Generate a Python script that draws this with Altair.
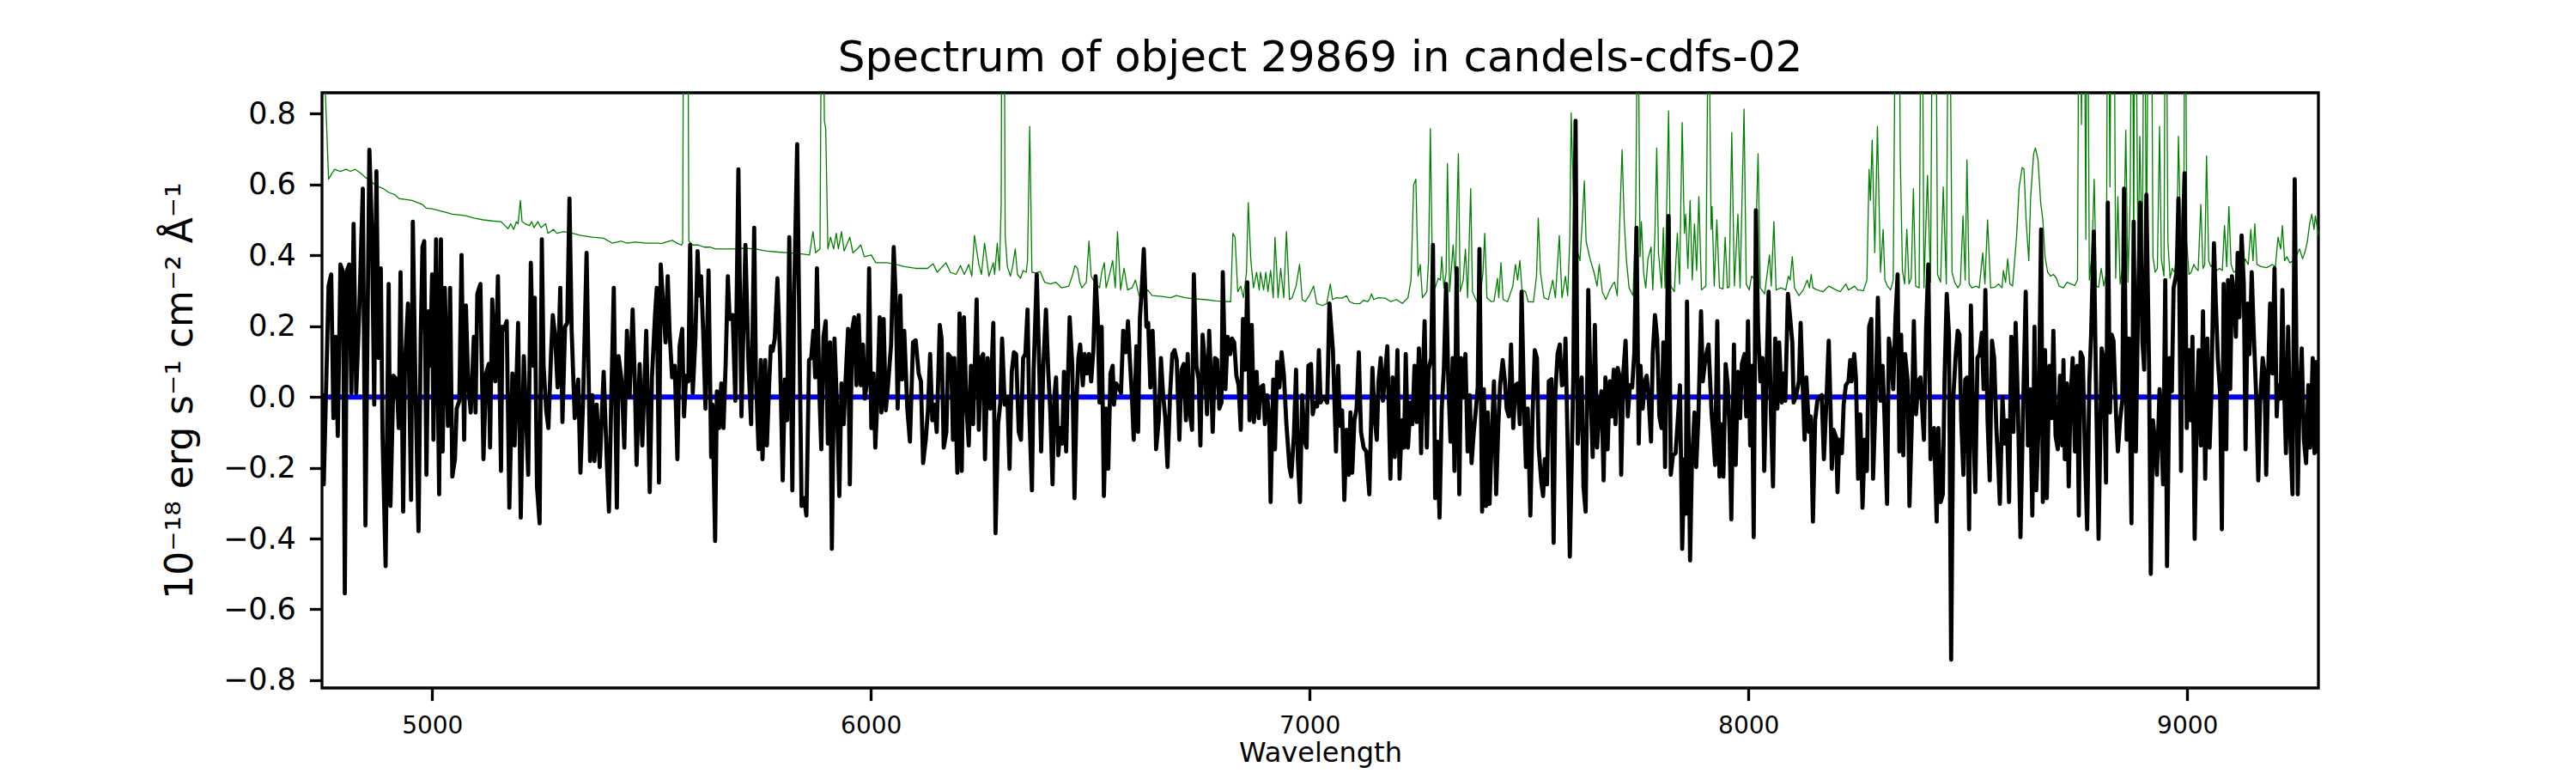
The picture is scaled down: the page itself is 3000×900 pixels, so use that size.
import altair as alt
import pandas as pd

# ---------------- data ----------------
TITLE = "Spectrum of object 29869 in candels-cdfs-02"
X_TITLE = "Wavelength"
Y_TITLE = "10⁻¹⁸ erg s⁻¹ cm⁻² Å⁻¹"
X_TICKS = [5000, 6000, 7000, 8000, 9000]
Y_TICKS = [-0.8, -0.6, -0.4, -0.2, 0.0, 0.2, 0.4, 0.6, 0.8]
X_RANGE = [4749, 9299]
Y_RANGE = [-0.822, 0.859]

# black: observed flux (wavelength, flux)
flux_points = [
(4749,0.01),(4753,-0.247),(4764,0.313),(4770,0.346),(4775,-0.060),(4780,0.170),(4785,-0.110),(4791,0.374),
(4797,0.352),(4801,-0.555),(4806,0.357),(4811,0.374),(4816,0.011),(4821,0.489),(4827,0.011),(4834,0.247),
(4842,0.588),(4848,-0.363),(4857,0.698),(4863,0.462),(4868,-0.022),(4873,0.637),(4878,0.110),(4883,0.363),
(4887,-0.110),(4894,-0.478),(4901,0.319),(4905,-0.308),(4912,0.060),(4919,0.049),(4924,-0.088),(4928,0.352),
(4934,-0.324),(4938,0.088),(4945,0.264),(4952,-0.291),(4956,0.495),(4962,0.033),(4969,-0.379),(4974,0.170),
(4978,0.423),(4982,0.440),(4987,-0.220),(4992,0.242),(4995,0.088),(5000,0.346),(5003,-0.121),(5009,0.445),
(5016,-0.275),(5020,0.445),(5024,-0.154),(5029,0.308),(5036,-0.082),(5041,0.308),(5046,-0.225),(5052,-0.176),
(5056,-0.033),(5062,-0.011),(5067,0.401),(5073,-0.121),(5077,0.258),(5082,0.044),(5088,-0.044),(5095,0.170),
(5099,-0.044),(5103,0.291),(5110,0.319),(5117,-0.176),(5123,0.066),(5129,0.093),(5132,-0.143),(5137,0.275),
(5144,0.044),(5150,0.341),(5157,-0.209),(5160,0.198),(5164,0.190),(5170,0.214),(5176,-0.313),(5183,0.066),
(5188,-0.137),(5196,0.209),(5202,-0.341),(5209,0.115),(5214,-0.049),(5219,-0.220),(5225,0.379),(5230,0.088),
(5234,0.280),(5239,-0.253),(5245,-0.357),(5250,0.445),(5254,0.088),(5260,-0.038),(5265,-0.088),(5271,0.121),
(5275,0.231),(5280,0.176),(5286,0.027),(5292,0.308),(5297,-0.071),(5303,0.198),(5308,0.209),(5313,0.560),
(5318,0.187),(5325,-0.060),(5333,0.049),(5338,-0.214),(5344,-0.016),(5352,0.407),(5360,-0.181),(5365,0.005),
(5370,-0.181),(5375,-0.022),(5382,-0.198),(5387,-0.044),(5391,0.071),(5398,-0.176),(5403,-0.324),(5408,-0.022),
(5414,0.308),(5421,-0.313),(5425,0.115),(5432,0.044),(5438,-0.143),(5444,0.187),(5450,0.000),(5457,0.247),
(5462,0.044),(5466,-0.192),(5473,0.093),(5479,-0.137),(5488,0.187),(5496,-0.269),(5501,0.055),(5508,0.231),
(5512,0.308),(5517,-0.242),(5521,0.374),
(5532,0.154),(5537,0.341),(5541,0.187),(5547,0.055),(5553,0.088),(5559,-0.176),(5564,0.143),(5570,0.192),
(5574,-0.055),(5579,0.060),(5584,0.044),(5588,0.429),(5594,0.011),(5600,0.165),(5605,0.412),(5609,0.286),
(5613,0.341),(5618,0.176),(5623,-0.033),(5630,0.357),(5636,-0.170),(5639,-0.022),(5645,-0.407),(5649,0.016),
(5654,-0.088),(5659,0.038),(5664,-0.088),(5669,0.093),(5674,0.341),(5678,0.220),(5685,0.231),(5691,-0.011),
(5698,0.643),(5705,-0.055),(5710,0.220),(5714,0.429),(5721,0.093),(5727,-0.077),(5734,0.478),(5738,0.055),
(5744,-0.148),(5749,0.104),(5753,-0.176),(5759,0.104),(5763,-0.137),(5768,0.033),(5772,0.143),(5776,0.130),
(5781,0.165),(5787,0.335),(5793,0.110),(5799,-0.236),(5804,0.049),(5809,-0.066),(5814,0.451),(5821,-0.264),
(5825,0.286),(5832,0.714),(5836,0.286),(5842,-0.308),(5848,-0.286),(5853,-0.335),(5859,0.104),(5864,0.110),
(5869,0.187),(5873,0.055),(5877,0.363),(5883,-0.005),(5887,-0.148),(5892,0.170),(5897,0.214),(5902,-0.132),
(5907,0.154),(5911,-0.429),(5917,0.165),(5923,-0.038),(5928,-0.280),(5933,0.038),(5938,-0.077),(5943,0.066),
(5948,0.192),(5952,-0.247),(5957,0.187),(5962,0.225),(5967,0.033),(5972,0.231),(5977,0.033),(5982,0.148),
(5986,-0.005),(5992,0.049),(5996,0.363),(6001,-0.088),(6006,0.066),(6010,-0.143),(6014,-0.033),(6020,0.225),
(6024,-0.044),(6029,0.220),(6034,-0.038),(6039,0.033),(6046,0.148),(6052,0.423),(6057,0.264),(6061,-0.033),
(6067,0.286),(6071,0.049),(6076,0.187),(6083,-0.033),(6089,-0.126),(6096,0.154),(6102,0.160),(6109,0.066),
(6114,0.044),(6119,-0.187),(6125,-0.121),(6130,-0.038),(6135,0.121),(6140,-0.066),(6145,-0.022),(6150,-0.099),
(6157,0.203),(6161,0.165),(6166,-0.143),(6172,-0.099),(6176,0.121),(6183,0.110),(6187,-0.121),(6190,0.110),
(6197,-0.214),(6202,0.236),(6207,-0.209),(6212,0.225),(6218,-0.033),(6223,-0.137),(6228,0.088),(6233,-0.077),
(6241,0.275),(6246,-0.093),(6251,0.110),(6256,0.121),(6260,-0.176),(6266,0.110),(6272,-0.033),(6279,0.209),
(6284,-0.385),
(6290,-0.077),(6295,-0.016),(6299,0.165),(6305,-0.022),(6311,0.000),(6316,-0.203),(6321,0.071),(6326,0.126),
(6331,0.121),(6337,-0.099),(6342,-0.121),(6347,0.110),(6352,0.121),(6357,0.247),(6361,-0.044),(6367,-0.264),
(6371,0.077),(6378,0.346),(6383,0.121),(6388,-0.154),(6393,0.088),(6399,0.247),(6404,0.077),(6409,-0.044),
(6414,-0.247),(6418,0.000),(6422,0.055),(6427,-0.165),(6432,-0.088),(6436,-0.132),(6440,0.071),(6445,-0.154),
(6449,0.044),(6453,0.225),(6459,0.088),(6464,-0.286),(6469,0.000),(6473,0.110),(6477,0.148),(6483,0.033),
(6487,0.121),(6492,0.066),(6497,0.121),(6502,0.044),(6507,0.132),(6512,0.341),(6517,0.220),(6521,-0.016),
(6526,0.198),(6531,-0.280),(6536,-0.033),(6541,-0.203),(6546,0.066),(6551,0.088),(6554,-0.022),(6559,0.038),
(6566,0.022),(6570,0.011),(6575,0.187),(6581,0.126),(6586,0.214),(6590,0.110),(6595,0.000),(6599,-0.121),
(6605,0.143),(6609,-0.099),(6613,0.220),(6618,0.319),(6622,0.418),(6628,0.198),(6632,0.209),(6637,0.027),
(6642,0.187),(6647,0.022),(6650,-0.148),(6656,-0.066),(6661,0.110),(6666,0.005),(6671,-0.060),(6676,-0.198),
(6682,0.011),(6687,0.121),(6692,0.132),(6697,0.104),(6703,-0.121),(6708,0.077),(6713,0.093),(6718,-0.066),
(6722,0.121),(6727,-0.044),(6732,-0.093),(6736,0.346),(6742,0.088),(6747,0.049),(6751,-0.137),(6756,0.176),
(6761,0.099),(6766,-0.049),(6771,0.187),(6776,0.016),(6779,-0.099),(6784,0.110),(6789,0.105),(6794,-0.033),
(6799,-0.016),(6802,0.352),(6808,0.022),(6813,0.170),(6819,0.121),(6823,0.165),(6828,0.154),(6833,0.060),
(6838,0.033),(6843,-0.093),(6848,0.220),(6853,0.077),(6858,0.324),(6863,-0.066),(6868,0.203),(6873,-0.071),
(6879,0.071),(6884,-0.060),(6888,0.027),(6894,0.033),(6898,-0.077),(6903,0.005),(6908,-0.066),(6911,-0.297),
(6917,0.049),(6921,-0.148),(6926,0.099),(6931,0.027),(6936,0.126),(6941,0.066),(6947,-0.077),(6954,-0.198),
(6958,-0.225),(6964,-0.110),(6969,0.077),(6973,-0.176),(6978,-0.297),(6983,0.005),(6988,-0.121),(6993,-0.143),
(6997,0.088),(7003,0.093),(7007,-0.049),(7012,-0.016),(7017,-0.027),(7021,0.132),(7025,-0.016),(7030,0.000),
(7035,-0.005),(7040,-0.016),(7045,0.264),
(7053,0.132),(7060,-0.154),(7065,0.088),(7069,-0.082),(7074,-0.038),(7079,-0.291),(7084,-0.093),(7089,-0.220),
(7093,-0.044),(7097,-0.214),(7102,-0.066),(7107,-0.033),(7112,0.126),(7117,-0.099),(7123,-0.143),(7129,-0.154),
(7136,-0.275),(7143,0.082),(7148,-0.060),(7153,-0.121),(7157,0.044),(7162,0.110),(7167,-0.011),(7172,0.066),
(7177,0.143),(7184,-0.231),(7189,0.055),(7194,-0.170),(7200,0.132),(7205,-0.231),(7210,-0.066),(7215,-0.143),
(7219,0.121),(7224,-0.143),(7230,-0.016),(7234,-0.077),(7239,0.088),(7244,-0.071),(7249,0.137),(7254,-0.159),
(7258,0.066),(7262,0.214),(7267,-0.143),(7271,0.077),(7277,0.110),(7281,0.429),(7286,-0.286),(7291,-0.126),
(7296,-0.341),(7301,-0.033),(7306,0.082),(7311,0.319),(7316,0.044),(7321,-0.126),(7326,0.110),(7330,-0.209),
(7335,0.363),(7341,-0.275),(7345,0.110),(7350,0.000),(7355,0.121),(7360,-0.154),(7365,0.005),(7369,-0.187),
(7374,-0.099),(7379,-0.033),(7383,0.027),(7387,0.418),(7393,-0.324),(7397,0.022),(7402,-0.308),(7406,-0.044),
(7410,-0.302),(7415,-0.115),(7420,0.044),(7425,-0.275),(7430,-0.077),(7434,0.033),(7440,0.104),(7445,0.044),
(7449,-0.033),(7454,-0.055),(7459,0.148),(7464,-0.088),(7469,0.033),(7474,0.038),(7479,-0.077),(7483,0.297),
(7489,-0.044),(7493,-0.198),(7497,-0.033),(7503,-0.335),(7508,-0.055),(7513,0.132),(7518,0.110),(7522,-0.143),
(7528,-0.242),(7532,-0.280),(7536,-0.176),(7541,-0.247),(7545,0.044),(7551,0.050),(7556,-0.412),(7560,0.011),
(7565,0.121),(7570,0.148),(7575,0.033),(7580,0.038),(7583,0.165),(7588,-0.137),(7593,-0.451),(7598,-0.132),
(7601,0.066),(7606,0.780),(7611,-0.132),(7616,0.000),(7620,0.055),(7624,-0.253),(7629,-0.324),(7635,0.302),
(7641,-0.022),(7645,-0.170),(7650,0.203),(7655,-0.143),(7660,-0.038),(7665,0.016),(7670,-0.236),(7674,0.055),
(7679,-0.148),(7684,0.044),(7688,-0.055),(7693,0.077),(7697,-0.077),(7702,0.082),(7707,0.055),(7710,-0.220),
(7715,0.071),(7720,0.159),(7725,-0.055),(7730,0.033),(7735,0.027),(7740,0.126),(7745,0.478),(7750,-0.132),
(7754,0.088),(7759,-0.033),(7764,0.044),(7768,0.060),(7772,0.011),(7778,-0.126),(7782,0.121),(7787,0.231),
(7792,0.165),(7797,-0.055),(7802,-0.088),(7806,0.154),(7810,-0.198),
(7818,0.511),(7823,-0.220),(7828,-0.165),(7834,-0.159),(7839,-0.066),(7844,0.033),(7849,-0.429),(7854,-0.176),
(7857,-0.330),(7860,0.269),(7867,-0.462),(7871,-0.198),(7877,-0.044),(7881,-0.198),(7886,-0.055),(7892,0.242),
(7896,0.044),(7900,0.088),(7904,0.121),(7909,0.148),(7916,-0.044),(7920,-0.110),(7924,-0.192),(7929,0.214),
(7934,-0.225),(7939,-0.077),(7943,-0.225),(7948,0.093),(7953,0.033),(7957,-0.099),(7961,-0.346),(7967,0.148),
(7971,-0.192),(7976,0.071),(7981,-0.060),(7985,0.093),(7991,0.121),(7995,-0.055),(7999,0.214),(8004,-0.137),
(8008,0.088),(8012,-0.396),(8017,0.527),(8022,0.198),(8027,0.044),(8032,0.110),(8036,-0.209),(8042,0.110),
(8046,0.297),(8051,-0.033),(8056,-0.253),(8061,0.165),(8066,-0.033),(8070,0.154),(8076,-0.016),(8079,0.066),
(8084,-0.011),(8090,0.291),(8095,0.225),(8100,0.154),(8103,-0.016),(8108,0.000),(8115,0.044),(8119,0.209),
(8123,0.055),(8128,-0.121),(8132,0.055),(8138,-0.099),(8142,-0.055),(8147,-0.352),(8152,-0.066),(8157,-0.011),
(8162,0.000),(8167,0.005),(8172,-0.176),(8178,-0.005),(8183,0.159),(8187,-0.022),(8190,-0.203),(8194,-0.093),
(8200,-0.115),(8203,-0.269),(8207,-0.121),(8213,-0.159),(8217,-0.022),(8222,0.033),(8228,0.044),(8232,0.104),
(8235,0.044),(8241,0.121),(8245,0.055),(8250,-0.231),(8255,-0.049),(8260,-0.313),(8265,-0.121),(8270,-0.209),
(8275,0.198),(8280,0.220),(8284,-0.231),(8290,0.000),(8295,0.280),(8301,-0.011),(8306,0.088),(8310,-0.055),
(8316,-0.302),(8320,0.165),(8325,0.121),(8330,0.022),(8335,0.220),(8340,0.346),(8344,-0.154),(8348,0.176),
(8353,-0.165),(8357,0.121),(8363,0.044),(8367,-0.308),(8372,-0.088),(8377,0.214),(8382,-0.049),(8387,0.044),
(8392,0.055),(8397,-0.055),(8400,-0.121),(8405,0.198),(8410,0.374),(8415,-0.176),(8418,-0.099),(8423,-0.088),
(8429,-0.352),(8433,-0.088),(8438,-0.297),(8443,-0.275),(8447,0.055),(8452,0.291),(8457,0.176),(8462,-0.742),
(8467,0.000),(8472,0.110),(8477,0.187),(8481,0.176),(8485,-0.066),(8490,-0.220),(8494,0.049),(8498,0.055),
(8503,-0.374),(8507,0.258),(8513,-0.099),(8517,-0.269),(8522,0.110),(8527,0.121),(8532,0.181),(8536,0.022),
(8540,0.302),(8545,-0.066),(8550,-0.236),(8555,0.159),(8560,0.110),(8565,-0.088),(8570,-0.209),(8573,-0.302),
(8579,0.000),(8584,-0.132),(8589,-0.066),(8594,-0.297),(8599,0.170),(8604,-0.099),(8609,0.209),(8614,-0.011),
(8620,-0.396),(8626,-0.033),(8632,0.297),(8637,-0.137),(8642,0.022),(8647,-0.335),(8652,0.198),(8656,-0.264),
(8661,-0.093),(8667,0.473),(8671,-0.297),(8676,0.132),(8680,-0.286),(8686,0.088),(8691,-0.060),(8695,0.187),
(8700,-0.110),(8705,-0.148),(8710,0.060),(8715,-0.137),(8718,0.104),(8721,-0.176),(8726,0.038),(8730,-0.253),
(8734,-0.011),(8739,0.110),(8744,-0.154),(8749,0.088),(8753,-0.335),(8757,0.126),(8762,0.110),(8767,-0.165),
(8772,-0.374),(8777,0.044),(8781,0.176),(8787,0.467),(8792,0.044),(8798,-0.401),(8805,0.137),(8809,0.110),
(8815,-0.242),(8819,0.549),(8824,-0.044),(8828,0.176),(8832,0.159),(8838,-0.055),(8842,-0.154),(8847,-0.066),
(8852,-0.011),(8856,0.588),(8862,-0.121),(8867,0.165),(8873,-0.357),(8878,0.495),(8883,-0.154),(8888,0.264),
(8893,0.549),(8898,0.154),(8902,0.077),(8907,0.571),(8913,0.088),(8917,-0.500),(8922,-0.066),(8927,-0.132),
(8931,-0.220),(8937,0.022),(8940,-0.066),(8945,-0.247),(8950,0.330),(8954,-0.478),(8960,0.110),(8965,0.016),
(8969,0.308),(8976,0.352),(8980,0.560),(8986,-0.209),(8991,0.500),(8994,0.632),(8999,-0.088),(9004,0.132),
(9008,-0.066),(9012,0.170),(9017,-0.401),(9022,-0.022),(9026,0.132),(9031,-0.137),(9036,0.242),(9041,-0.231),
(9046,0.165),(9051,-0.143),(9055,0.000),(9061,0.434),(9065,0.275),(9070,0.104),(9075,0.011),(9079,-0.374),
(9083,0.319),(9089,-0.148),(9093,0.330),(9098,0.022),(9102,0.341),(9106,0.297),(9111,0.170),(9115,0.407),
(9119,0.225),(9124,0.456),(9129,0.319),(9133,-0.148),(9138,0.264),(9142,0.121),(9147,0.352),(9152,0.170),
(9157,0.011),(9162,-0.236),(9166,-0.022),(9172,0.110),(9176,0.071),(9180,-0.220),(9185,0.088),(9189,0.264),
(9194,0.066),(9199,0.363),(9204,-0.055),(9207,0.033),(9213,-0.005),(9217,0.302),(9220,0.066),(9225,-0.159),
(9230,0.198),(9235,-0.115),(9240,-0.275),(9245,0.615),(9252,-0.275),(9256,-0.011),(9261,0.137),(9266,-0.121),
(9271,-0.187),(9276,0.033),(9280,-0.143),(9286,0.110),(9290,-0.159),(9294,0.099),(9299,-0.159),
]

# green: flux uncertainty (wavelength, sigma); values above the frame are clipped
error_points = [
(4749,1.2),(4757,0.85),(4764,0.615),(4772,0.632),(4778,0.643),(4791,0.637),(4804,0.643),(4814,0.637),
(4824,0.643),(4837,0.632),(4847,0.621),(4860,0.610),(4870,0.599),(4879,0.593),(4889,0.588),(4902,0.577),
(4915,0.571),(4925,0.560),(4938,0.558),(4954,0.555),(4967,0.549),(4977,0.544),(4987,0.533),(5000,0.531),
(5013,0.527),(5029,0.522),(5046,0.516),(5062,0.514),(5078,0.511),(5095,0.505),(5117,0.500),(5137,0.497),
(5157,0.495),(5166,0.484),(5173,0.475),(5179,0.489),(5186,0.473),(5192,0.495),(5196,0.489),(5201,0.555),
(5205,0.495),(5212,0.489),(5222,0.484),(5227,0.495),(5232,0.478),(5241,0.495),(5248,0.478),(5259,0.489),
(5264,0.462),(5277,0.473),(5284,0.462),(5300,0.467),(5320,0.462),(5339,0.456),(5365,0.451),(5391,0.448),
(5411,0.434),(5431,0.440),(5444,0.434),(5463,0.437),(5489,0.434),(5515,0.434),(5522,0.433),(5541,0.440),
(5548,0.442),(5558,0.434),(5568,0.429),(5571,0.434),(5574,1.5),(5582,1.5),(5585,0.440),(5594,0.429),
(5607,0.429),(5620,0.423),(5633,0.423),(5646,0.418),(5665,0.418),(5685,0.418),(5711,0.420),(5737,0.418),
(5763,0.412),(5789,0.409),(5815,0.407),(5842,0.404),(5860,0.401),(5868,0.467),(5874,0.407),(5884,0.418),
(5889,1.5),(5894,0.780),(5897,0.758),(5902,0.418),(5908,0.451),(5915,0.418),(5921,0.462),(5926,0.418),
(5933,0.467),(5939,0.412),(5952,0.451),(5959,0.407),(5969,0.418),(5977,0.429),(5985,0.396),(6001,0.401),
(6011,0.379),(6037,0.379),(6057,0.374),(6076,0.368),(6102,0.363),(6129,0.363),(6142,0.376),(6151,0.352),
(6171,0.379),(6181,0.352),(6194,0.346),(6204,0.371),(6213,0.346),(6223,0.374),(6230,0.341),(6236,0.456),
(6246,0.374),(6252,0.346),(6259,0.434),(6269,0.341),(6279,0.379),(6282,0.346),(6288,0.434),(6293,0.357),
(6297,0.549),(6299,1.5),(6303,1.5),(6306,0.456),(6311,0.368),(6318,0.341),(6323,0.368),(6329,0.418),
(6334,0.346),(6341,0.335),(6347,0.357),(6354,0.352),(6357,0.385),(6362,0.764),(6367,0.352),(6376,0.350),
(6386,0.354),(6396,0.324),(6409,0.319),(6421,0.324),(6435,0.308),(6451,0.313),(6460,0.346),(6465,0.371),
(6471,0.363),(6476,0.324),(6481,0.308),(6491,0.324),(6497,0.440),(6502,0.341),(6510,0.324),(6521,0.308),
(6526,0.352),(6532,0.379),(6536,0.308),(6543,0.341),(6551,0.385),(6557,0.308),(6562,0.467),(6569,0.302),
(6577,0.363),(6585,0.302),(6595,0.308),(6603,0.330),(6611,0.286),(6621,0.280),(6631,0.302),(6641,0.286),
(6663,0.284),(6683,0.280),(6696,0.286),(6716,0.280),(6735,0.277),(6761,0.275),(6787,0.271),(6820,0.269),
(6825,0.462),(6830,0.451),(6836,0.297),(6843,0.313),(6849,0.280),(6856,0.352),(6860,0.549),(6866,0.385),
(6872,0.308),(6879,0.352),(6885,0.302),(6888,0.352),(6895,0.302),(6900,0.352),(6905,0.297),(6911,0.357),
(6917,0.280),(6921,0.451),(6928,0.280),(6934,0.363),(6941,0.280),(6947,0.467),(6954,0.275),(6960,0.280),
(6969,0.313),(6977,0.374),(6983,0.275),(6990,0.269),(6999,0.286),(7009,0.313),(7016,0.264),(7029,0.258),
(7039,0.264),(7047,0.319),(7052,0.275),(7061,0.280),(7074,0.279),(7084,0.286),(7091,0.269),(7101,0.264),
(7114,0.263),(7123,0.273),(7132,0.269),(7136,0.275),(7141,0.291),(7146,0.275),(7156,0.280),(7172,0.279),
(7185,0.269),(7198,0.275),(7211,0.264),(7224,0.280),(7231,0.330),(7237,0.599),(7242,0.615),(7247,0.341),
(7252,0.374),(7257,0.280),(7267,0.297),(7271,0.385),(7275,0.758),(7280,0.335),(7286,0.308),(7293,0.335),
(7298,0.330),(7301,0.396),(7306,0.308),(7311,0.352),(7314,0.659),(7319,0.297),(7327,0.429),(7332,0.330),
(7339,0.687),(7343,0.297),(7350,0.330),(7355,0.418),(7360,0.280),(7367,0.588),(7371,0.297),(7381,0.269),
(7389,0.286),(7395,0.352),(7399,0.462),(7404,0.280),(7414,0.269),(7420,0.270),(7428,0.335),(7431,0.280),
(7436,0.379),(7441,0.275),(7451,0.269),(7463,0.313),(7469,0.374),(7474,0.330),(7479,0.385),(7484,0.302),
(7492,0.297),(7498,0.269),(7510,0.268),(7517,0.341),(7521,0.505),(7526,0.352),(7534,0.280),(7544,0.275),
(7554,0.330),(7560,0.280),(7569,0.456),(7575,0.280),(7583,0.341),(7588,0.286),(7593,0.451),(7596,0.802),
(7601,0.571),(7609,0.418),(7616,0.385),(7621,0.489),(7626,0.610),(7630,0.440),(7639,0.390),(7648,0.352),
(7655,0.313),(7660,0.374),(7667,0.297),(7675,0.275),(7684,0.302),(7691,0.319),(7695,0.324),(7701,0.286),
(7707,0.505),(7712,0.698),(7717,0.495),(7722,0.385),(7728,0.308),(7737,0.286),(7743,0.516),(7748,1.2),
(7753,0.396),(7756,0.495),(7761,0.352),(7766,0.308),(7771,0.390),(7778,0.423),(7782,0.302),(7787,0.467),
(7791,0.703),(7795,0.407),(7802,0.308),(7806,0.478),(7810,0.308),(7818,0.808),(7823,0.313),(7831,0.297),
(7838,0.462),(7843,0.319),(7849,0.775),(7854,0.462),(7857,0.516),(7862,0.363),(7867,0.555),(7872,0.330),
(7877,0.489),(7882,0.357),(7887,0.566),(7893,0.302),(7903,0.313),(7909,1.2),(7915,0.473),(7917,0.538),
(7922,0.313),(7928,0.500),(7934,0.308),(7942,0.305),(7947,0.451),(7952,0.308),(7956,0.310),(7962,0.747),
(7968,0.313),(7976,0.516),(7981,0.308),(7990,0.813),(7995,0.319),(8002,0.302),(8007,0.341),(8012,0.335),
(8017,0.462),(8022,0.687),(8027,0.308),(8037,0.291),(8048,0.401),(8052,0.313),(8058,0.495),(8063,0.302),
(8074,0.308),(8085,0.302),(8091,0.341),(8095,0.330),(8100,0.396),(8105,0.308),(8115,0.286),(8125,0.302),
(8134,0.330),(8139,0.308),(8143,0.346),(8147,0.308),(8157,0.302),(8170,0.297),(8183,0.313),(8191,0.308),
(8200,0.302),(8209,0.297),(8222,0.319),(8228,0.302),(8236,0.308),(8242,0.313),(8249,0.302),(8262,0.300),
(8270,0.330),(8275,0.643),(8278,0.555),(8282,0.725),(8288,0.407),(8294,0.764),(8301,0.352),(8307,0.473),
(8311,0.330),(8317,0.313),(8324,0.302),(8330,0.330),(8337,1.5),(8342,1.5),(8346,0.681),(8351,0.357),
(8356,0.319),(8361,0.473),(8366,0.319),(8371,0.335),(8376,0.588),(8381,0.313),(8389,0.308),(8395,1.5),
(8400,0.308),(8408,0.626),(8415,0.324),(8421,1.5),(8426,1.5),(8431,0.346),(8438,0.324),(8444,0.593),
(8451,0.319),(8457,1.5),(8464,0.352),(8470,0.324),(8477,0.308),(8483,0.319),(8489,0.511),(8494,0.330),
(8498,0.670),(8503,0.319),(8509,0.308),(8519,0.313),(8526,0.308),(8534,0.407),(8539,0.319),(8545,0.500),
(8552,0.308),(8562,0.310),(8570,0.319),(8578,0.308),(8581,0.357),(8586,0.324),(8591,0.390),(8596,0.319),
(8602,0.313),(8611,0.451),(8617,0.593),(8624,0.648),(8628,0.643),(8633,0.495),(8639,0.385),(8643,0.560),
(8650,0.687),(8654,0.703),(8660,0.670),(8666,0.549),(8671,0.500),(8676,0.396),(8682,0.352),(8689,0.341),
(8695,0.346),(8702,0.335),(8708,0.313),(8718,0.308),(8726,0.324),(8735,0.319),(8744,0.315),(8750,0.330),
(8754,1.5),(8759,0.769),(8764,1.5),(8769,0.445),(8772,1.5),(8777,0.330),(8783,0.407),(8788,0.615),
(8793,0.313),(8798,0.310),(8804,0.363),(8810,0.313),(8816,0.352),(8819,1.5),(8824,0.593),(8828,1.5),
(8832,1.5),(8837,0.335),(8842,0.566),(8847,0.319),(8855,0.385),(8860,0.753),(8865,0.324),(8870,0.566),
(8875,1.5),(8878,0.341),(8881,1.5),(8888,0.357),(8892,0.736),(8898,0.363),(8902,1.5),(8907,0.379),
(8913,1.5),(8917,1.5),(8922,0.396),(8927,0.352),(8932,0.363),(8937,0.764),(8941,0.390),(8947,0.341),
(8951,1.5),(8956,0.440),(8961,0.335),(8966,0.363),(8971,0.352),(8976,0.396),(8980,0.736),(8986,0.418),
(8992,0.363),(8995,1.5),(8999,0.440),(9004,0.346),(9009,0.352),(9015,0.374),(9020,0.363),(9025,0.357),
(9031,0.544),(9036,0.363),(9040,0.374),(9044,0.681),(9049,0.385),(9054,0.368),(9061,0.379),(9067,0.357),
(9074,0.363),(9080,0.357),(9085,0.484),(9090,0.368),(9095,0.538),(9100,0.374),(9106,0.352),(9116,0.360),
(9126,0.363),(9132,0.390),(9139,0.374),(9145,0.473),(9150,0.385),(9154,0.489),(9159,0.374),(9168,0.368),
(9181,0.365),(9194,0.374),(9201,0.368),(9207,0.451),(9213,0.418),(9217,0.484),(9222,0.385),(9227,0.396),
(9234,0.379),(9243,0.385),(9252,0.407),(9256,0.418),(9263,0.390),(9269,0.412),(9274,0.440),(9279,0.489),
(9284,0.516),(9289,0.473),(9292,0.511),(9299,0.456),
]

# blue: model (zero everywhere)
model_points = [(4749, 0.0), (9299, 0.0)]

# ---------------- chart ----------------
FONT = "DejaVu Sans"

df_flux = pd.DataFrame(flux_points, columns=["wavelength", "flux"])
df_err = pd.DataFrame(error_points, columns=["wavelength", "flux"])
df_model = pd.DataFrame(model_points, columns=["wavelength", "flux"])

xscale = alt.Scale(domain=X_RANGE, nice=False, zero=False)
yscale = alt.Scale(domain=Y_RANGE, nice=False, zero=False)

xaxis = alt.Axis(
    title=X_TITLE, values=X_TICKS, format="d", grid=False, domain=False,
    labelFont=FONT, labelFontSize=28, labelColor="black", labelPadding=16,
    labelFlush=False, tickSize=14.6, tickWidth=3.3, tickColor="black",
    titleFont=FONT, titleFontSize=32, titleFontWeight="normal", titleColor="black",
    titleBaseline="alphabetic", titleY=85,
)
yaxis = alt.Axis(
    title=Y_TITLE, values=Y_TICKS, format=".1f", grid=False, domain=False,
    labelFont=FONT, labelFontSize=35, labelColor="black", labelPadding=16,
    labelFlush=False, tickSize=14.6, tickWidth=3.3, tickColor="black",
    titleFont=FONT, titleFontSize=44, titleFontWeight="normal", titleColor="black",
    titleAngle=270, titleBaseline="alphabetic", titleAlign="center",
    titleX=-152, titleY=346.5,
)

def enc(chart):
    return chart.encode(
        x=alt.X("wavelength:Q", scale=xscale, axis=xaxis),
        y=alt.Y("flux:Q", scale=yscale, axis=yaxis),
        order="wavelength:Q",
    )

err_line = enc(alt.Chart(df_err).mark_line(color="#008000", strokeWidth=1.3, clip=True, strokeJoin="round"))
model_line = enc(alt.Chart(df_model).mark_line(color="#0000ff", strokeWidth=6, clip=True))
flux_line = enc(alt.Chart(df_flux).mark_line(color="#000000", strokeWidth=4.8, clip=True, strokeJoin="round"))

chart = (
    alt.layer(err_line, model_line, flux_line)
    .properties(
        width=2325,
        height=693,
        padding={"left": 367, "top": 100, "right": 292, "bottom": 98},
        autosize=alt.AutoSizeParams(type="none"),
        background="white",
        title=alt.TitleParams(
            text=TITLE, font=FONT, fontSize=50, fontWeight="normal", color="black",
            anchor="middle", baseline="alphabetic", offset=23, dy=48, frame="group",
        ),
    )
    .configure_view(stroke="black", strokeWidth=3.3)
)

chart.save("out.html", embed_options={"renderer": "svg", "actions": False})
